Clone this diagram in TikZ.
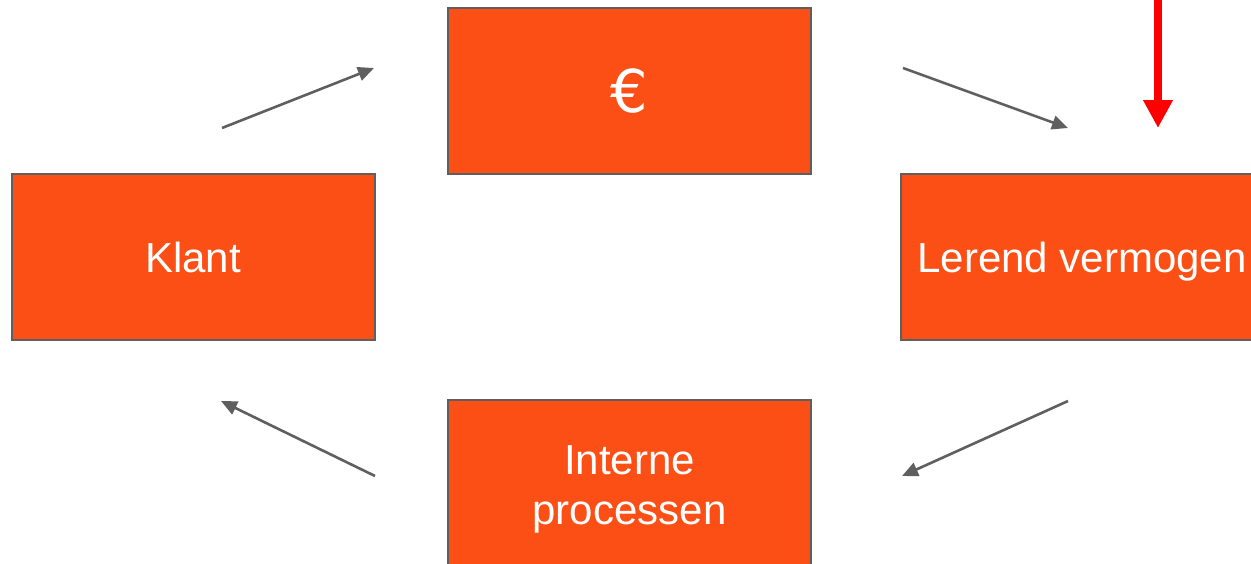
\documentclass[tikz,border=0pt]{standalone}
\usepackage{fontspec}
\setmainfont{Liberation Sans}
\newfontfamily\eurofont{DejaVu Sans}
\usetikzlibrary{arrows.meta}
\definecolor{boxorange}{RGB}{252,79,22}
\definecolor{edgegray}{RGB}{95,95,95}
\definecolor{arrowred}{RGB}{255,0,0}
\begin{document}
\begin{tikzpicture}[x=1pt,y=-1pt,
  box/.style={draw=edgegray,line width=2pt,fill=boxorange,text=white,
    minimum width=363pt,minimum height=166pt,inner sep=0pt,align=center,
    text height=31pt,text depth=0pt,
    font=\fontsize{42pt}{50pt}\selectfont},
  flow/.style={draw=edgegray,line width=2.6pt,-{Triangle[length=16pt,width=14pt]}}]
\useasboundingbox (0,0) rectangle (1251,563);
\node[box,text height=43pt,font=\eurofont\fontsize{59pt}{60pt}\selectfont] (euro) at (629.5,91) {€};
\node[box] (klant) at (193,257) {Klant};
\node[box,minimum width=362pt] (lerend) at (1082,257) {Lerend vermogen};
\node[box,text height=82pt] (interne) at (629.5,483) {Interne\\processen};
\coordinate (a1s) at (222,128); \coordinate (a1e) at (374,68);
\coordinate (a2s) at (903,68); \coordinate (a2e) at (1068,128);
\coordinate (a3s) at (1068,401); \coordinate (a3e) at (902,476);
\coordinate (a4s) at (375,476); \coordinate (a4e) at (221,401);
\draw[flow] (a1s) -- (a1e);
\draw[flow] (a2s) -- (a2e);
\draw[flow] (a3s) -- (a3e);
\draw[flow] (a4s) -- (a4e);
\coordinate (rs) at (1158,-2); \coordinate (re) at (1158,128);
\draw[arrowred,line width=8pt,-{Triangle[length=28pt,width=28pt]}] (rs) -- (re);
\end{tikzpicture}
\end{document}
